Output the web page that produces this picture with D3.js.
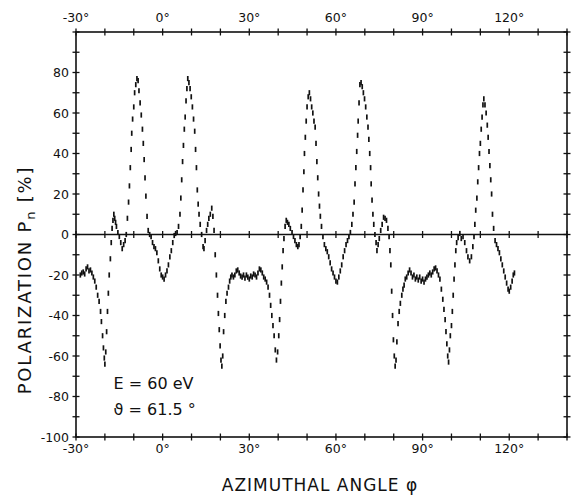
<!DOCTYPE html>
<html>
<head>
<meta charset="utf-8">
<script src="https://cdn.jsdelivr.net/npm/d3@7"></script>
<style>
  body { margin: 0; background: #fff; }
  text { font-family: "DejaVu Sans", sans-serif; fill: #111; }
</style>
</head>
<body>
<svg id="chart" width="572" height="499"></svg>
<script>
// tick labels
const xLabels = [-30, 0, 30, 60, 90, 120];
const yLabels = [80, 60, 40, 20, 0, -20, -40, -60, -80, -100];

// measured polarization P_n [%] vs azimuthal angle phi [deg]
const measured = [
  [-28.5,-20],[-28,-19],[-27.5,-18.5],[-27,-19.5],[-26.5,-17],[-26,-16],[-25.5,-18],[-25,-17.5],
  [-24.5,-19],[-24,-21],[-23.5,-23],[-23,-26],[-22.5,-30],[-22,-33],[-21.5,-38],[-21.2,-43],
  [-20.8,-50],[-20.5,-56],[-20.2,-61],[-20,-64],[-19.7,-58],[-19.4,-48],[-19.1,-38],[-18.8,-29],
  [-18.5,-20],[-18.1,-12],[-17.8,-4],[-17.5,3],[-17.2,7],[-16.9,10],[-16.6,8],[-16.3,6],
  [-16,4],[-15.5,1],[-15,-1],[-14.5,-4],[-14,-7],[-13.5,-5],[-13,-3],[-12.6,0],
  [-12.2,8],[-11.8,16],[-11.5,24],[-11.2,33],[-10.9,42],[-10.7,50],[-10.4,57],[-10,63],
  [-9.7,70],[-9.3,74],[-8.9,77],[-8.5,76],[-8.2,71],[-7.8,65],[-7.4,59],[-7,52],
  [-6.7,45],[-6.4,37],[-6.1,28],[-5.8,19],[-5.4,9],[-5,2],[-4.5,0],[-4,-1],
  [-3.5,-4],[-3,-6],[-2.5,-7],[-2,-9],[-1.5,-13],[-1,-17],[-0.5,-20],[0,-21],
  [0.5,-22],[1,-20],[1.5,-18],[2,-15],[2.5,-11],[3,-8],[3.5,-4],[4,-0.5],
  [4.5,0.5],[5,1],[5.5,4],[6,10],[6.3,18],[6.6,27],[6.9,36],[7.2,44],
  [7.5,52],[7.8,58],[8.1,66],[8.4,72],[8.7,77],[9.1,75],[9.5,72],[9.9,68],
  [10.3,63],[10.7,57],[11.1,51],[11.4,42],[11.7,33],[12,22],[12.3,15],[12.6,10],
  [13,5],[13.5,0],[14,-6],[14.3,-7],[14.7,-3],[15.2,2],[15.6,5],[16,8],
  [16.5,10],[17,13],[17.4,9],[17.8,2],[18.2,-10],[18.6,-20],[19,-30],[19.3,-39],
  [19.6,-47],[19.9,-55],[20.2,-62],[20.5,-65],[20.8,-60],[21.1,-48],[21.5,-40],[21.9,-33],
  [22.3,-29],[22.8,-26],[23.2,-23],[23.6,-21],[24,-20],[24.5,-21],[25,-20],[25.5,-18],
  [26,-17.5],[26.5,-19],[27,-20.5],[27.5,-21],[28,-20],[28.5,-21.5],[29,-20],[29.5,-21],
  [30,-22],[30.5,-20.5],[31,-21],[31.5,-19.5],[32,-20],[32.5,-21],[33,-19],[33.5,-17],
  [34,-17.5],[34.5,-19],[35,-21],[35.5,-22],[36,-23.5],[36.5,-26],[37,-30],[37.4,-35],
  [37.8,-40],[38.2,-45],[38.6,-50],[39,-57],[39.4,-62],[39.8,-58],[40.2,-50],[40.5,-42],
  [40.8,-33],[41.1,-24],[41.4,-16],[41.7,-8],[42,-2],[42.4,4],[42.8,7],[43.2,6],
  [43.7,5],[44.2,3],[44.8,1],[45.3,-1],[45.8,-3],[46.3,-5],[46.8,-6],[47.2,-5],
  [47.6,-1],[48,4],[48.3,12],[48.6,22],[48.9,31],[49.1,40],[49.4,48],[49.7,56],
  [50,63],[50.4,68],[50.8,70],[51.2,67],[51.6,63],[52,60],[52.4,56],[52.8,53],
  [53.1,45],[53.4,36],[53.7,28],[54,20],[54.3,14],[54.6,9],[55,4],[55.5,-1],
  [56,-5],[56.5,-7],[57,-8.5],[57.5,-11],[58,-14],[58.5,-17],[59,-19],[59.5,-21],
  [60,-23],[60.5,-23.5],[61,-21],[61.5,-18],[62,-15],[62.5,-11],[63,-8],[63.5,-5],
  [64,-3],[64.5,-1],[65,1],[65.5,5],[65.9,10],[66.3,16],[66.6,25],[66.9,33],
  [67.2,41],[67.5,49],[67.7,56],[68,65],[68.3,74],[68.7,75],[69.1,73],[69.5,70],
  [69.9,67],[70.3,63],[70.7,58],[71.1,53],[71.4,47],[71.7,40],[72,33],[72.2,25],
  [72.5,17],[72.8,10],[73.1,5],[73.5,0],[73.9,-4],[74.2,-8],[74.6,-5],[75,-2],
  [75.5,2],[76,5],[76.5,8.5],[77,8],[77.5,7],[78,3],[78.4,-1],[78.7,-8],
  [79,-15],[79.3,-28],[79.6,-40],[79.9,-52],[80.2,-60],[80.5,-65],[80.8,-62],[81.1,-53],
  [81.5,-44],[81.9,-38],[82.3,-34],[82.8,-30],[83.2,-27],[83.6,-25],[84,-22],[84.5,-21],
  [85,-19],[85.5,-17.5],[86,-19],[86.5,-21],[87,-20],[87.5,-22],[88,-21],[88.5,-22.5],
  [89,-21],[89.5,-23],[90,-22],[90.5,-23.5],[91,-22],[91.5,-21],[92,-20],[92.5,-19],
  [93,-20],[93.5,-18.5],[94,-17],[94.5,-16.5],[95,-18],[95.5,-20],[96,-22],[96.5,-27],
  [97,-32],[97.4,-37],[97.8,-42],[98.1,-48],[98.4,-54],[98.7,-60],[99,-63],[99.3,-57],
  [99.6,-50],[100,-45],[100.3,-38],[100.6,-30],[100.9,-22],[101.2,-15],[101.5,-8],[101.8,-4],
  [102.3,-1.5],[102.9,0.5],[103.4,-2],[104,-1],[104.6,-4],[105.2,-8],[105.7,-11],[106.3,-13],
  [106.9,-11],[107.4,-6],[107.8,-1],[108.1,5],[108.4,12],[108.8,18],[109.1,26],[109.4,33],
  [109.7,40],[110,45],[110.3,52],[110.6,58],[110.9,64],[111.2,67],[111.6,64],[112,60],
  [112.4,54],[112.7,48],[113,41],[113.3,34],[113.6,27],[113.9,20],[114.2,10],[114.6,3],
  [115.1,-3],[115.6,-5],[116.1,-7],[116.6,-9],[117.1,-12],[117.6,-15],[118.1,-18],[118.6,-21],
  [119.1,-24],[119.6,-27],[120,-28],[120.5,-26],[121,-23],[121.4,-20],[121.8,-19]
];

const svg = d3.select("#chart");
const plotL = 76, plotR = 567, plotT = 32, plotB = 437;

const x = d3.scaleLinear().domain([-30, 140]).range([plotL, plotR]);
const y = d3.scaleLinear().domain([-100, 100]).range([plotB, plotT]);

const ink = "#111";

// frame
svg.append("rect")
    .attr("x", plotL).attr("y", plotT)
    .attr("width", plotR - plotL).attr("height", plotB - plotT)
    .attr("fill", "none").attr("stroke", ink).attr("stroke-width", 1.6);

// zero line
svg.append("line")
    .attr("x1", plotL).attr("x2", plotR)
    .attr("y1", y(0)).attr("y2", y(0))
    .attr("stroke", ink).attr("stroke-width", 1.4);

// crossing ticks on the frame and on the zero line
const xt = d3.range(-30, 141, 10);
const yt = d3.range(-100, 101, 10);
const tickLen = 3.5;
const ticks = svg.append("g").attr("stroke", ink).attr("stroke-width", 1.3);
[plotT, plotB, y(0)].forEach(yy => {
    ticks.selectAll(null).data(xt).enter().append("line")
        .attr("x1", d => x(d)).attr("x2", d => x(d))
        .attr("y1", yy - tickLen).attr("y2", yy + tickLen);
});
[plotL, plotR].forEach(xx => {
    ticks.selectAll(null).data(yt).enter().append("line")
        .attr("x1", xx - tickLen).attr("x2", xx + tickLen)
        .attr("y1", d => y(d)).attr("y2", d => y(d));
});

// tick labels
const fmtDeg = d => d + "\u00b0";
const fmtNum = d => d < 0 ? "-" + Math.abs(d) : "" + d;
svg.append("g").selectAll("text").data(xLabels).enter().append("text")
    .attr("x", d => x(d)).attr("y", plotB + 16)
    .attr("text-anchor", "middle").attr("font-size", 12.5)
    .text(fmtDeg);
svg.append("g").selectAll("text").data(xLabels).enter().append("text")
    .attr("x", d => x(d)).attr("y", plotT - 10)
    .attr("text-anchor", "middle").attr("font-size", 12.5)
    .text(fmtDeg);
svg.append("g").selectAll("text").data(yLabels).enter().append("text")
    .attr("x", plotL - 7).attr("y", d => y(d) + 4.5)
    .attr("text-anchor", "end").attr("font-size", 12.5)
    .text(fmtNum);

// axis titles
svg.append("text")
    .attr("x", 320).attr("y", 491)
    .attr("text-anchor", "middle").attr("font-size", 17)
    .attr("letter-spacing", 1)
    .text("AZIMUTHAL ANGLE \u03c6");

const yTitle = svg.append("text")
    .attr("transform", "translate(31,280) rotate(-90)")
    .attr("text-anchor", "middle").attr("font-size", 18)
    .attr("letter-spacing", 1.8);
yTitle.append("tspan").text("POLARIZATION P");
yTitle.append("tspan").attr("font-size", 13).attr("dy", 4).text("n");
yTitle.append("tspan").attr("dy", -4).text(" [%]");

// annotation
svg.append("text").attr("x", x(-17)).attr("y", 389)
    .attr("font-size", 16).text("E = 60 eV");
svg.append("text").attr("x", x(-17)).attr("y", 415)
    .attr("font-size", 16).text("\u03d1 = 61.5 \u00b0");

// measured points drawn as short vertical bars
svg.append("g").selectAll("line").data(measured).enter().append("line")
    .attr("x1", d => x(d[0])).attr("x2", d => x(d[0]))
    .attr("y1", d => y(d[1]) - 2.6).attr("y2", d => y(d[1]) + 2.6)
    .attr("stroke", ink).attr("stroke-width", 1.7);
</script>
</body>
</html>
